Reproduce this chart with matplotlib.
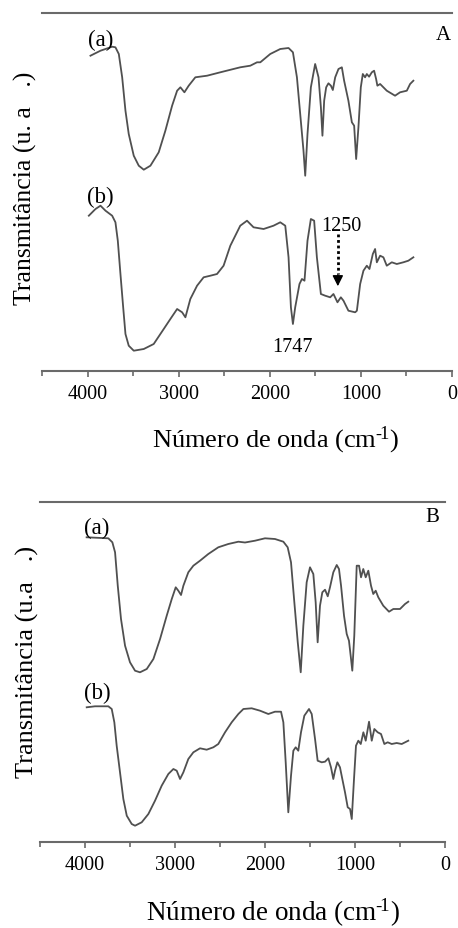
import matplotlib
matplotlib.use('Agg')
import matplotlib.pyplot as plt
from matplotlib.ticker import MultipleLocator

plt.rcParams['font.family'] = ['Liberation Serif', 'DejaVu Serif']
plt.rcParams['mathtext.fontset'] = 'custom'
plt.rcParams['mathtext.rm'] = 'Liberation Serif'
plt.rcParams['mathtext.it'] = 'Liberation Serif:italic'

# ---------------- data ----------------
# Panel A, spectrum (a)
A_a_wn = [3968, 3858, 3730, 3694, 3657, 3620, 3584, 3548, 3493, 3438, 3383, 3310, 3219,
          3146, 3072, 3017, 2981, 2937, 2890, 2817, 2688, 2543, 2324, 2214, 2140, 2104,
          1995, 1885, 1794, 1746, 1702, 1666, 1630, 1611, 1586, 1549, 1502, 1465, 1439,
          1422, 1403, 1381, 1356, 1329, 1308, 1282, 1246, 1209, 1184, 1137, 1099, 1074,
          1052, 1027, 1001, 979, 954, 935, 910, 880, 855, 833, 819, 789, 716, 625, 570,
          496, 460, 424]
A_a_T = [315.3, 320.3, 324.3, 323.7, 317, 293.7, 260.3, 237, 215.3, 205.3, 201.3, 205.3, 218.7,
         240.3, 265.3, 280.3, 283.7, 278.7, 285.3, 293.7, 295.3, 298.7, 303.7, 305.3, 308.7, 308.7,
         317, 322, 323, 318.7, 293.7, 257, 220.3, 195.3, 237, 283.7, 307, 293.7, 263.7,
         235.3, 270.3, 283.7, 287.7, 285.3, 281, 293.7, 302, 303.7, 290.3, 270.3, 248.7, 245.3,
         212, 243.7, 283.7, 297, 293.7, 297, 294.3, 298.7, 300.3, 292, 285.3, 287, 280.3, 275.3, 278.7,
         280.3, 287, 290.3]

# Panel A, spectrum (b)
A_b_wn = [3986, 3913, 3858, 3803, 3730, 3694, 3668, 3639, 3609, 3584, 3548, 3493, 3383,
          3274, 3164, 3091, 3017, 2962, 2926, 2872, 2798, 2726, 2652, 2579, 2507, 2433,
          2324, 2250, 2178, 2068, 1959, 1885, 1830, 1794, 1768, 1746, 1721, 1674, 1647,
          1619, 1586, 1549, 1513, 1483, 1439, 1392, 1337, 1301, 1257, 1220, 1191, 1137,
          1063, 1044, 1008, 972, 935, 906, 869, 844, 825, 789, 753, 716, 661, 606, 534,
          479, 424]
A_b_T = [155.3, 162, 165.3, 160.3, 155.3, 148.7, 130.3, 97, 63.7, 37, 25.3, 20.3, 22,
         27, 42, 52, 62, 58.7, 53.7, 72, 85.3, 93.7, 95.3, 97, 105.3, 125.3,
         145.3, 150.3, 143.7, 142, 145.3, 148.7, 145.3, 113.7, 63.7, 47, 63.7, 87, 92,
         90.3, 130.3, 152, 150.3, 113.7, 77, 75.3, 73.7, 77, 68.7, 73.7, 70.3, 60.3,
         58.7, 60.3, 87, 100.3, 105.3, 102, 117, 122, 108.7, 115.3, 113.7, 105.3, 108.7, 107, 108.7,
         110.3, 113.7]

# Panel B, spectrum (a)
B_a_wn = [3982, 3741, 3696, 3666, 3636, 3600, 3555, 3500, 3444, 3389, 3314, 3240, 3166,
          3092, 3036, 2992, 2963, 2933, 2907, 2852, 2796, 2722, 2630, 2519, 2408, 2296,
          2222, 2111, 2000, 1889, 1796, 1748, 1711, 1674, 1636, 1603, 1574, 1537, 1500,
          1463, 1437, 1415, 1389, 1363, 1333, 1303, 1278, 1241, 1203, 1178, 1155, 1122,
          1092, 1067, 1044, 1030, 1008, 981, 955, 933, 908, 881, 852, 822, 797, 770, 741,
          686, 622, 574, 500, 444, 408]
B_a_T = [304.7, 303.7, 299.7, 289.7, 256.3, 223, 196.3, 179.7, 171.3, 169.7, 173, 183, 203,
         226.3, 243, 254.7, 251.3, 247, 256.3, 269.7, 276.3, 281.3, 288, 294.7, 298, 300.3,
         299.5, 301.3, 303.7, 303, 300.3, 294.7, 279.7, 239.7, 199.7, 169.7, 216.3, 259.7, 274.7,
         268, 239.7, 199.7, 236.3, 249.7, 252.3, 245.7, 254.7, 269.7, 277, 273, 256.3, 226.3,
         208, 201.3, 183, 171.3, 206.3, 276.3, 276.3, 264.7, 273, 264.7, 271.3, 256.3, 248, 251.3, 244.7,
         236.3, 230.3, 233, 233, 238, 240.3]

# Panel B, spectrum (b)
B_b_wn = [3981, 3889, 3741, 3703, 3674, 3648, 3611, 3574, 3536, 3481, 3444, 3370, 3296,
          3222, 3148, 3074, 3018, 2981, 2944, 2907, 2852, 2796, 2722, 2648, 2574, 2519,
          2444, 2370, 2296, 2240, 2148, 2055, 1963, 1889, 1822, 1796, 1770, 1741, 1711,
          1685, 1659, 1630, 1600, 1563, 1511, 1481, 1444, 1415, 1370, 1333, 1296, 1267,
          1241, 1222, 1196, 1167, 1141, 1111, 1081, 1055, 1036, 1011, 989, 963, 936, 907,
          881, 844, 814, 785, 748, 711, 674, 637, 592, 537, 481, 408]
B_b_T = [134.7, 135.7, 135.7, 133, 119.7, 96.3, 69.7, 43, 26.3, 18, 16.3, 19.7, 28,
         41.3, 56.3, 68, 73, 71.3, 63, 69.7, 83, 89.7, 93.7, 92.3, 94.7, 98,
         109.7, 119.7, 128, 133, 133.7, 131.3, 128, 130.3, 130.3, 119.7, 79.7, 29.7, 66.3,
         91.3, 94.7, 91.3, 109.7, 126.3, 133, 128, 103, 81.3, 79.7, 80.3, 83.7, 74.7,
         63, 71.3, 79.7, 74.7, 63, 49.7, 34.7, 33, 23, 63, 96.3, 101.3, 98, 109.7,
         101.3, 120.3, 101.3, 113, 109.7, 108, 98, 99.7, 98, 99, 98, 101.3]

x_ticks_major = [4000, 3000, 2000, 1000, 0]
x_tick_labels = ['4000', '3000', '2000', '1000', '0']

# annotations in panel A
peak_labels = ['1747', '1250']

# ---------------- figure ----------------
W, H = 458, 929
fig = plt.figure(figsize=(W / 100, H / 100), dpi=100)

line_col = '#505050'
spine_col = '#6a6a6a'


def px_axes(l, r, t, b):
    return fig.add_axes([l / W, 1 - b / H, (r - l) / W, (b - t) / H])


def style(ax, ymax):
    ax.set_xlim(4500, 0)
    ax.set_ylim(0, ymax)
    for s in ['left', 'right']:
        ax.spines[s].set_visible(False)
    for s in ['top', 'bottom']:
        ax.spines[s].set_color(spine_col)
        ax.spines[s].set_linewidth(1.5)
    ax.set_yticks([])
    ax.set_xticks(x_ticks_major)
    ax.set_xticklabels(x_tick_labels)
    ax.xaxis.set_minor_locator(MultipleLocator(500))
    ax.tick_params(axis='x', which='both', direction='out', top=False, bottom=True,
                   color=spine_col, width=1.2, labelsize=14.5, pad=5)
    ax.tick_params(axis='x', which='major', length=4.5)
    ax.tick_params(axis='x', which='minor', length=3.5)
    ax.patch.set_alpha(0)


# Panel A
axA = px_axes(42, 452, 14, 372)
style(axA, 358)
axA.plot(A_a_wn, A_a_T, color=line_col, lw=1.3)
axA.plot(A_b_wn, A_b_T, color=line_col, lw=1.3)
axA.text(3858, 332, '(a)', fontsize=16.5, ha='center', va='center')
axA.text(3858, 175, '(b)', fontsize=16.5, ha='center', va='center')
axA.text(99, 337, 'A', fontsize=15, ha='center', va='center')
axA.text(1748, 25, peak_labels[0], fontsize=14.5, ha='center', va='center')
axA.text(1215, 146, peak_labels[1], fontsize=14.5, ha='center', va='center')
axA.plot([1253, 1253], [137, 97], color='black', lw=2, ls=(0, (1, 1)))
axA.annotate('', xy=(1253, 82), xytext=(1253, 99),
             arrowprops=dict(arrowstyle='-|>', color='black', lw=1, mutation_scale=16))

# Panel B
axB = px_axes(40, 445, 503, 843)
style(axB, 340)
axB.plot(B_a_wn, B_a_T, color=line_col, lw=1.3)
axB.plot(B_b_wn, B_b_T, color=line_col, lw=1.3)
axB.text(3866, 315, '(a)', fontsize=16.5, ha='center', va='center')
axB.text(3866, 150, '(b)', fontsize=16.5, ha='center', va='center')
axB.text(144, 325, 'B', fontsize=15, ha='center', va='center')

# axis titles
xlabel = 'Número de onda (cm$^{\\mathregular{\u2010}\\!\\mathregular{1}}$)'
fig.text(25 / W, 1 - 188 / H, 'Transmitância (u. a   .)', rotation=90,
         fontsize=18.5, ha='center', va='center')
fig.text(27 / W, 1 - 662 / H, 'Transmitância (u.a   .)', rotation=90,
         fontsize=19, ha='center', va='center')
fig.text(275 / W, 1 - 440 / H, xlabel, fontsize=19, ha='center', va='center')
fig.text(273 / W, 1 - 913 / H, xlabel, fontsize=19.5, ha='center', va='center')

fig.savefig('out.png', dpi=100)
